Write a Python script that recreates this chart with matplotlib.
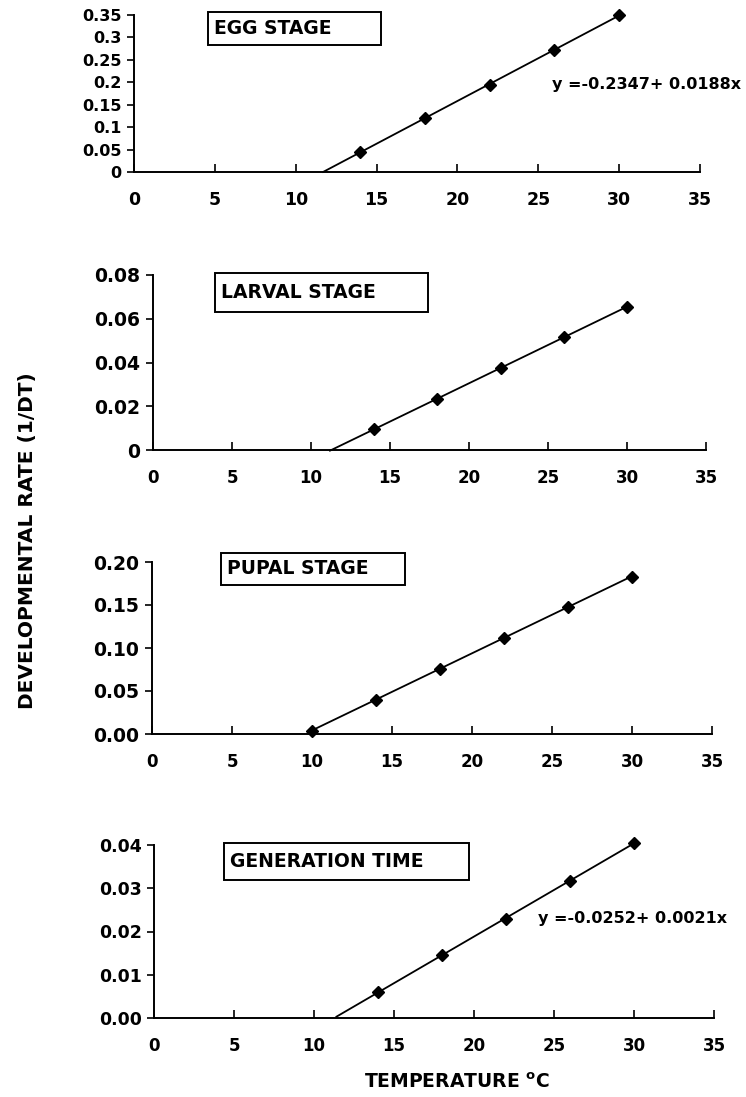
import matplotlib
matplotlib.use("Agg")
import matplotlib.pyplot as plt
from matplotlib.patches import Rectangle
import numpy as np

# data
temp = [14, 18, 22, 26, 30]
egg_rate = [0.045, 0.120, 0.195, 0.272, 0.350]
larval_rate = [0.0095, 0.0235, 0.0375, 0.0515, 0.0655]
temp_pupal = [10, 14, 18, 22, 26, 30]
pupal_rate = [0.004, 0.040, 0.076, 0.112, 0.148, 0.183]
gen_rate = [0.006, 0.0145, 0.023, 0.0317, 0.0405]

x_ticks = [0, 5, 10, 15, 20, 25, 30, 35]
egg_yticks = [0, 0.05, 0.1, 0.15, 0.2, 0.25, 0.3, 0.35]
egg_ylabels = ["0", "0.05", "0.1", "0.15", "0.2", "0.25", "0.3", "0.35"]
larval_yticks = [0, 0.02, 0.04, 0.06, 0.08]
larval_ylabels = ["0", "0.02", "0.04", "0.06", "0.08"]
pupal_yticks = [0, 0.05, 0.10, 0.15, 0.20]
pupal_ylabels = ["0.00", "0.05", "0.10", "0.15", "0.20"]
gen_yticks = [0, 0.01, 0.02, 0.03, 0.04]
gen_ylabels = ["0.00", "0.01", "0.02", "0.03", "0.04"]

# start of the drawn regression line (x where it leaves the axis)
line_start = [11.7, 11.2, 10.0, 11.4]

titles = ["EGG STAGE", "LARVAL STAGE", "PUPAL STAGE", "GENERATION TIME"]

plt.rcParams["font.family"] = "DejaVu Sans"
plt.rcParams["font.weight"] = "bold"
W, H = 746, 1097

fig = plt.figure(figsize=(W / 100, H / 100), dpi=100)


def px_axes(left, right, top, bottom):
    return fig.add_axes([left / W, 1 - bottom / H, (right - left) / W, (bottom - top) / H])


def box(left, right, top, bottom, text, fs=13.5):
    fig.patches.append(Rectangle((left / W, 1 - bottom / H), (right - left) / W, (bottom - top) / H,
                                 transform=fig.transFigure, fill=False, lw=1.4, ec="black"))
    fig.text((left + 6) / W, 1 - (top + bottom) / 2 / H, text, ha="left", va="center",
             fontsize=fs, fontweight="bold")


def panel(ax, xs, ys, x0, yticks, ylabels, ysize, xsize=12):
    xs = np.array(xs, dtype=float)
    ys = np.array(ys, dtype=float)
    b, a = np.polyfit(xs, ys, 1)
    xl = np.array([x0, xs.max()])
    ax.plot(xl, a + b * xl, color="black", lw=1.3, clip_on=False)
    ax.plot(xs, ys, linestyle="none", marker="D", ms=6, color="black", clip_on=False)
    ax.set_xlim(0, 35)
    ax.set_ylim(yticks[0], yticks[-1])
    ax.set_xticks(x_ticks)
    ax.set_xticklabels([str(t) for t in x_ticks], fontsize=xsize, fontweight="bold")
    ax.set_yticks(yticks)
    ax.set_yticklabels(ylabels, fontsize=ysize, fontweight="bold")
    ax.tick_params(axis="x", direction="in", length=6, width=1.2, pad=14)
    ax.tick_params(axis="y", direction="out", length=5, width=1.2, pad=4)
    for s in ["top", "right"]:
        ax.spines[s].set_visible(False)
    for s in ["left", "bottom"]:
        ax.spines[s].set_linewidth(1.4)
    ax.patch.set_alpha(0)


ax1 = px_axes(134, 700, 15, 172)
panel(ax1, temp, egg_rate, line_start[0], egg_yticks, egg_ylabels, 11.5, 12.5)
box(208, 381, 12, 45, titles[0])
fig.text(552 / W, 1 - 84 / H, "y =-0.2347+ 0.0188x", ha="left", va="center",
         fontsize=11.5, fontweight="bold")

ax2 = px_axes(153, 706, 275, 450)
panel(ax2, temp, larval_rate, line_start[1], larval_yticks, larval_ylabels, 13.5)
box(215, 428, 273, 312, titles[1])

ax3 = px_axes(152, 712, 562, 734)
panel(ax3, temp_pupal, pupal_rate, line_start[2], pupal_yticks, pupal_ylabels, 13.5)
box(221, 405, 553, 585, titles[2])

ax4 = px_axes(154, 714, 845, 1018)
panel(ax4, temp, gen_rate, line_start[3], gen_yticks, gen_ylabels, 12.5)
box(224, 469, 843, 880, titles[3])
fig.text(538 / W, 1 - 918 / H, "y =-0.0252+ 0.0021x", ha="left", va="center",
         fontsize=11.5, fontweight="bold")

fig.text(457 / W, 1 - 1082 / H, "TEMPERATURE $^{\\mathbf{o}}$C", ha="center", va="center",
         fontsize=13.5, fontweight="bold")
fig.text(28 / W, 1 - 541 / H, "DEVELOPMENTAL RATE (1/DT)", ha="center", va="center",
         rotation=90, fontsize=14.5, fontweight="bold")

fig.savefig("out.png", dpi=100)
